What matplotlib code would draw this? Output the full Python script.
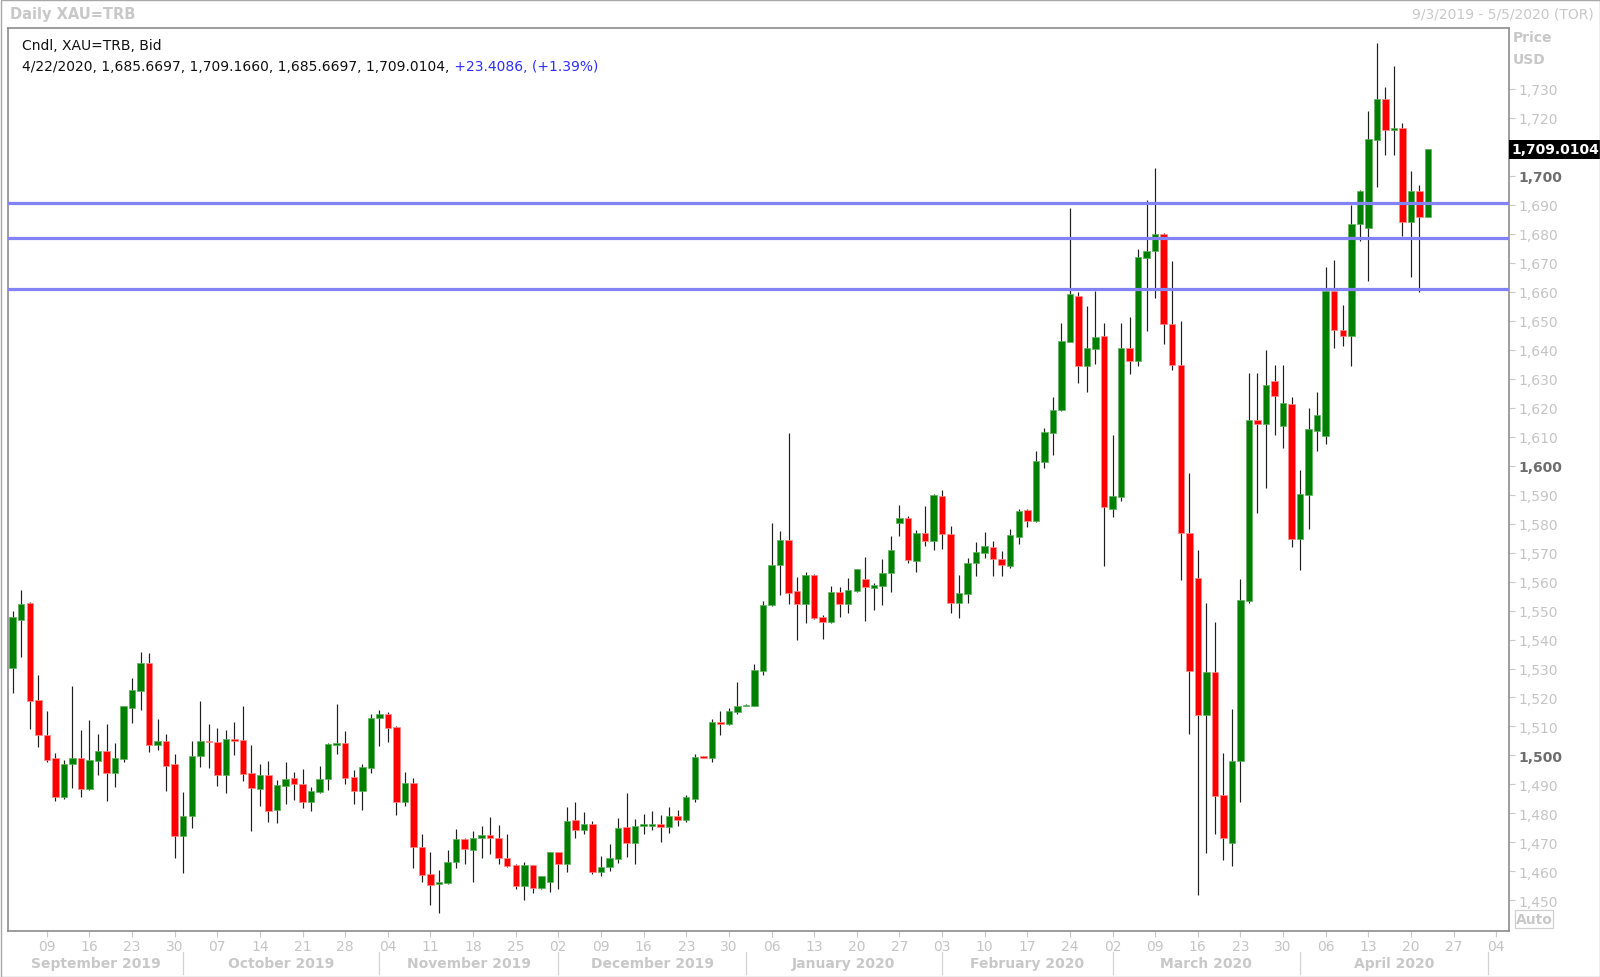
import matplotlib
matplotlib.use("Agg")
import matplotlib.pyplot as plt
import numpy as np
import pandas as pd
from matplotlib.patches import Rectangle

# ---------------- data ----------------
opens = [
    1530.2, 1546.9, 1552.7, 1519.2, 1507.1, 1499.0, 1485.8, 1497.0, 1499.2, 1488.5,
    1498.2, 1501.5, 1494.0, 1498.8, 1516.4, 1522.3, 1531.9, 1503.6, 1505.0, 1496.9,
    1472.2, 1479.0, 1499.9, 1505.0, 1504.8, 1493.4, 1505.7, 1505.4, 1494.0, 1488.5,
    1493.3, 1481.2, 1489.6, 1492.3, 1490.3, 1484.1, 1487.4, 1491.9, 1503.6, 1504.4,
    1492.6, 1487.8, 1495.7, 1512.8, 1514.2, 1509.7, 1483.9, 1490.5, 1468.6, 1459.2,
    1455.6, 1456.1, 1463.2, 1471.2, 1467.4, 1471.5, 1472.6, 1471.6, 1464.7, 1462.2,
    1454.9, 1462.2, 1454.3, 1456.3, 1466.6, 1462.5, 1477.8, 1474.3, 1476.2, 1459.7,
    1461.5, 1464.3, 1475.3, 1469.8, 1475.6, 1475.8, 1476.3, 1475.3, 1479.0, 1477.7,
    1485.0, 1499.6, 1499.3, 1511.4, 1510.8, 1514.9, 1517.0, 1517.0, 1529.2, 1551.8,
    1565.6, 1574.3, 1556.6, 1552.3, 1562.3, 1547.8, 1546.2, 1556.3, 1552.3, 1556.8,
    1560.9, 1557.8, 1558.5, 1562.8, 1580.1, 1581.8, 1567.0, 1576.8, 1573.9, 1589.4,
    1576.3, 1552.5, 1555.7, 1566.3, 1569.9, 1572.0, 1567.8, 1565.4, 1575.5, 1584.6,
    1581.0, 1601.1, 1611.2, 1619.2, 1642.7, 1658.5, 1634.2, 1640.1, 1644.6, 1585.0,
    1589.3, 1640.4, 1636.2, 1671.7, 1674.0, 1679.7, 1648.9, 1634.7, 1576.7, 1561.2,
    1514.0, 1528.7, 1486.4, 1469.8, 1498.1, 1553.3, 1615.7, 1614.2, 1629.1, 1613.5,
    1621.2, 1574.5, 1590.0, 1611.8, 1610.1, 1660.3, 1646.6, 1644.8, 1683.3, 1681.9,
    1712.4, 1726.4, 1715.8, 1716.3, 1684.1, 1694.8, 1685.67,
]
highs = [
    1549.7, 1557.0, 1552.9, 1527.8, 1515.3, 1500.9, 1498.5, 1523.8, 1508.9, 1512.3,
    1507.4, 1511.0, 1504.2, 1517.2, 1526.8, 1535.7, 1535.2, 1512.6, 1507.4, 1500.5,
    1487.3, 1505.0, 1518.8, 1510.9, 1509.4, 1508.7, 1511.5, 1517.0, 1503.5, 1497.2,
    1498.2, 1491.6, 1497.7, 1494.2, 1495.4, 1489.1, 1496.3, 1504.3, 1517.9, 1508.4,
    1495.0, 1496.9, 1514.3, 1515.7, 1514.9, 1510.3, 1494.2, 1492.3, 1472.9, 1466.6,
    1460.5, 1467.5, 1474.7, 1471.6, 1474.0, 1475.6, 1478.8, 1475.9, 1473.0, 1462.7,
    1463.2, 1462.4, 1458.6, 1466.7, 1466.8, 1482.2, 1484.1, 1480.4, 1477.3, 1465.3,
    1469.5, 1478.3, 1487.1, 1478.1, 1479.9, 1480.8, 1479.5, 1482.2, 1481.2, 1486.2,
    1500.5, 1499.8, 1512.6, 1515.4, 1516.3, 1525.5, 1517.8, 1531.5, 1553.4, 1580.1,
    1577.3, 1611.1, 1561.7, 1563.2, 1562.5, 1548.6, 1558.4, 1558.0, 1561.2, 1564.4,
    1568.4, 1559.4, 1567.8, 1575.6, 1586.5, 1582.7, 1577.7, 1585.9, 1590.2, 1591.4,
    1579.3, 1562.3, 1568.0, 1573.8, 1577.2, 1573.9, 1570.5, 1578.0, 1585.0, 1585.0,
    1604.9, 1612.9, 1623.5, 1649.1, 1688.7, 1659.7, 1654.9, 1660.2, 1649.3, 1610.5,
    1649.1, 1651.2, 1674.7, 1691.6, 1702.5, 1680.2, 1670.5, 1649.8, 1597.3, 1570.8,
    1552.7, 1545.9, 1500.9, 1516.1, 1560.9, 1631.8, 1631.8, 1639.8, 1634.7, 1634.6,
    1623.5, 1598.6, 1619.9, 1625.4, 1668.4, 1671.0, 1655.5, 1689.9, 1694.9, 1722.2,
    1745.7, 1730.4, 1737.9, 1718.1, 1701.7, 1696.8, 1709.166,
]
lows = [
    1521.6, 1533.8, 1509.2, 1502.8, 1497.7, 1484.2, 1485.1, 1488.8, 1485.8, 1488.0,
    1493.4, 1484.4, 1489.0, 1497.9, 1511.3, 1515.6, 1501.3, 1501.9, 1487.6, 1464.6,
    1459.4, 1475.0, 1496.0, 1495.8, 1489.6, 1487.1, 1500.0, 1491.3, 1473.9, 1482.7,
    1477.2, 1476.8, 1483.3, 1484.7, 1481.8, 1480.9, 1487.0, 1488.1, 1500.5, 1490.1,
    1483.4, 1481.2, 1493.8, 1503.1, 1504.6, 1479.5, 1482.5, 1461.1, 1456.3, 1448.5,
    1445.7, 1455.7, 1461.1, 1462.5, 1456.3, 1464.7, 1466.1, 1462.6, 1461.5, 1454.0,
    1450.0, 1452.6, 1454.0, 1452.9, 1454.0, 1459.8, 1471.5, 1473.0, 1459.2, 1458.6,
    1460.3, 1462.8, 1464.9, 1462.6, 1473.0, 1474.4, 1470.3, 1473.4, 1475.8, 1477.2,
    1484.1, 1499.0, 1497.7, 1507.2, 1510.6, 1514.4, 1516.9, 1516.9, 1527.8, 1551.6,
    1555.2, 1552.3, 1540.0, 1545.6, 1547.1, 1540.2, 1545.8, 1547.9, 1549.2, 1556.3,
    1546.3, 1550.3, 1551.9, 1556.5, 1575.8, 1566.3, 1563.2, 1572.4, 1570.7, 1571.2,
    1549.1, 1547.4, 1552.5, 1562.0, 1568.0, 1562.0, 1561.8, 1564.8, 1572.9, 1578.7,
    1580.5, 1599.0, 1603.8, 1618.7, 1642.5, 1628.6, 1625.3, 1635.1, 1565.3, 1582.4,
    1587.6, 1631.6, 1634.5, 1646.3, 1657.9, 1641.8, 1632.8, 1560.5, 1507.4, 1451.9,
    1466.2, 1473.0, 1464.0, 1461.9, 1483.8, 1552.7, 1583.7, 1592.2, 1610.7, 1606.0,
    1571.8, 1563.9, 1578.2, 1605.0, 1607.6, 1640.4, 1641.3, 1634.5, 1677.3, 1663.5,
    1696.0, 1707.1, 1707.1, 1679.3, 1665.1, 1659.8, 1685.67,
]
closes = [
    1547.7, 1552.4, 1518.9, 1506.9, 1498.6, 1485.8, 1497.1, 1499.2, 1488.5, 1498.5,
    1501.5, 1494.0, 1499.2, 1517.0, 1522.5, 1531.9, 1503.6, 1505.0, 1496.5, 1472.4,
    1479.0, 1499.7, 1505.0, 1504.6, 1493.1, 1505.7, 1505.1, 1493.6, 1488.8, 1493.3,
    1480.9, 1489.8, 1491.9, 1490.1, 1484.1, 1487.7, 1491.9, 1504.1, 1504.3, 1492.4,
    1487.8, 1495.9, 1512.8, 1514.2, 1509.5, 1483.9, 1490.5, 1468.4, 1458.9, 1455.5,
    1456.4, 1463.4, 1471.2, 1467.8, 1471.6, 1472.6, 1471.7, 1464.6, 1461.9, 1454.9,
    1462.2, 1454.3, 1458.5, 1466.6, 1462.5, 1477.4, 1474.3, 1476.2, 1459.7, 1461.7,
    1464.7, 1474.9, 1469.8, 1475.8, 1476.3, 1476.3, 1475.3, 1479.0, 1477.9, 1485.7,
    1499.4, 1499.3, 1511.4, 1511.0, 1515.3, 1517.2, 1517.5, 1529.4, 1552.0, 1565.8,
    1574.3, 1556.2, 1552.3, 1562.3, 1547.5, 1546.2, 1556.3, 1552.3, 1557.0, 1564.2,
    1558.1, 1558.7, 1562.8, 1570.8, 1581.8, 1567.4, 1576.6, 1574.0, 1589.9, 1576.5,
    1552.5, 1555.9, 1566.4, 1570.1, 1572.4, 1567.6, 1565.6, 1576.1, 1584.2, 1580.8,
    1601.4, 1611.5, 1619.3, 1642.9, 1659.2, 1634.2, 1640.7, 1644.3, 1585.8, 1589.4,
    1640.4, 1636.2, 1671.9, 1673.9, 1679.7, 1648.7, 1634.6, 1576.8, 1529.1, 1514.0,
    1528.7, 1486.1, 1471.7, 1498.1, 1553.6, 1615.7, 1614.2, 1627.8, 1624.1, 1621.6,
    1574.8, 1590.1, 1612.5, 1617.4, 1660.3, 1646.6, 1644.8, 1683.3, 1694.8, 1712.6,
    1726.4, 1715.8, 1716.5, 1684.1, 1694.8, 1685.6, 1709.0104,
]

axis_start = "2019-09-03"
axis_end = "2020-05-05"
hline_levels = [1690.5, 1678.6, 1660.9]
ytick_values = [1450, 1460, 1470, 1480, 1490, 1500, 1510, 1520, 1530, 1540,
                1550, 1560, 1570, 1580, 1590, 1600, 1610, 1620, 1630, 1640,
                1650, 1660, 1670, 1680, 1690, 1700, 1720, 1730]
last_price_text = "1,709.0104"
last_price_value = 1709.0104
legend_line1 = "Cndl, XAU=TRB, Bid"
legend_black = "4/22/2020, 1,685.6697, 1,709.1660, 1,685.6697, 1,709.0104,"
legend_blue = " +23.4086, (+1.39%)"
title_left = "Daily XAU=TRB"
title_right = "9/3/2019 - 5/5/2020 (TOR)"

# ---------------- figure ----------------
W, H = 1600, 978
fig = plt.figure(figsize=(W / 100, H / 100), dpi=100)
fig.patch.set_facecolor("white")


def fx(x):
    return x / W


def fy(y):
    return 1 - y / H


left, right, top, bottom = 8.2, 1509.0, 28.6, 931.5
ax = fig.add_axes([fx(left), fy(bottom), fx(right - left), (bottom - top) / H])

axis_dates = pd.bdate_range(axis_start, axis_end)
n = len(closes)
xs = np.arange(n)
o = np.array(opens)
h = np.array(highs)
l = np.array(lows)
c = np.array(closes)
up = c >= o
lo_b = np.minimum(o, c)
hi_b = np.maximum(o, c)
bh = hi_b - lo_b
minh = 0.45
adj = bh < minh
lo_b = np.where(adj, (lo_b + hi_b) / 2 - minh / 2, lo_b)
bh = np.where(adj, minh, bh)

ax.vlines(xs, l, h, color="#1e1e1e", linewidth=0.85, zorder=2)
ax.bar(xs[up], bh[up], bottom=lo_b[up], width=0.76, color="#008000",
       edgecolor="#5db35d", linewidth=0.5, zorder=3)
ax.bar(xs[~up], bh[~up], bottom=lo_b[~up], width=0.76, color="#ff0000",
       edgecolor="#ff8a8a", linewidth=0.5, zorder=3)

for lv in hline_levels:
    ax.axhline(lv, color="#8282f4", linewidth=2.3, zorder=4)

ax.set_xlim(-0.53, 175.5)
ax.set_ylim(1439.64, 1751.04)

# y axis
ax.yaxis.tick_right()
ax.set_yticks(ytick_values)
ax.set_yticklabels([f"{v:,}" for v in ytick_values])
ax.tick_params(axis="y", direction="out", length=4, width=0.8, color="#c8c8c8",
               pad=3, labelsize=10)
for v, lab in zip(ytick_values, ax.get_yticklabels()):
    if v % 100 == 0:
        lab.set_color("#6e6e6e")
        lab.set_fontweight("bold")
    else:
        lab.set_color("#c4c4c4")

# x axis (Mondays)
mon_idx = [i for i, d in enumerate(axis_dates) if d.weekday() == 0]
ax.set_xticks(mon_idx)
ax.set_xticklabels([f"{axis_dates[i].day:02d}" for i in mon_idx])
ax.tick_params(axis="x", direction="out", length=4, width=0.8, color="#c8c8c8",
               labelcolor="#c4c4c4", labelsize=10, pad=2)

for s in ax.spines.values():
    s.set_color("#8c8c8c")
    s.set_linewidth(1.2)

# month labels and separators
month_starts = [i for i in range(1, len(axis_dates))
                if axis_dates[i].month != axis_dates[i - 1].month]
bounds = [-0.5] + month_starts
for k in range(len(bounds)):
    a = bounds[k]
    if k + 1 < len(bounds):
        b = bounds[k + 1]
        d = axis_dates[max(int(a), 0) if a >= 0 else 0]
        if k > 0:
            d = axis_dates[int(a)]
        xm = (a + b) / 2
        xpix = left + (xm + 0.53) / (175.5 + 0.53) * (right - left)
        fig.text(fx(xpix), fy(964), d.strftime("%B %Y"), ha="center", va="center",
                 fontsize=10, fontweight="bold", color="#c8c8c8")
for ms in month_starts:
    xpix = left + (ms + 0.53) / (175.5 + 0.53) * (right - left)
    fig.add_artist(plt.Line2D([fx(xpix), fx(xpix)], [fy(953), fy(975)],
                              color="#d4d4d4", linewidth=0.9))

# legend text inside plot
fig.text(fx(22.5), fy(46), legend_line1, ha="left", va="center", fontsize=10,
         color="#111111")
t1 = fig.text(fx(22.5), fy(67.4), legend_black, ha="left", va="center",
              fontsize=10, color="#111111")
ax.annotate(legend_blue, xy=(1, 0), xycoords=t1, ha="left", va="bottom",
            fontsize=10, color="#2d2dff", annotation_clip=False)

# header
fig.text(fx(10), fy(15), title_left, ha="left", va="center", fontsize=10.5,
         fontweight="bold", color="#c8c8c8")
fig.text(fx(1594), fy(15), title_right, ha="right", va="center", fontsize=10,
         color="#c8c8c8")

# right side labels
fig.text(fx(1513), fy(38), "Price", ha="left", va="center", fontsize=10,
         fontweight="bold", color="#c8c8c8")
fig.text(fx(1513), fy(59.5), "USD", ha="left", va="center", fontsize=10,
         fontweight="bold", color="#c8c8c8")

# last price box
yl = bottom - (last_price_value - 1439.64) / (1751.04 - 1439.64) * (bottom - top)
fig.add_artist(Rectangle((fx(1509), fy(yl + 9.5)), fx(91), 19 / H,
                         facecolor="black", edgecolor="none"))
fig.text(fx(1511), fy(yl), last_price_text, ha="left", va="center", fontsize=10,
         fontweight="bold", color="white")

# Auto box
fig.add_artist(Rectangle((fx(1515), fy(929)), fx(38), 18 / H,
                         facecolor="white", edgecolor="#d0d0d0", linewidth=0.9))
fig.text(fx(1534), fy(920), "Auto", ha="center", va="center", fontsize=10,
         fontweight="bold", color="#c8c8c8")

# outer frame
fig.add_artist(Rectangle((fx(0.5), fy(977.5)), fx(1599), 977 / H,
                         facecolor="none", edgecolor="#a8a8a8", linewidth=1.0))

fig.savefig("out.png", dpi=100, facecolor="white")
